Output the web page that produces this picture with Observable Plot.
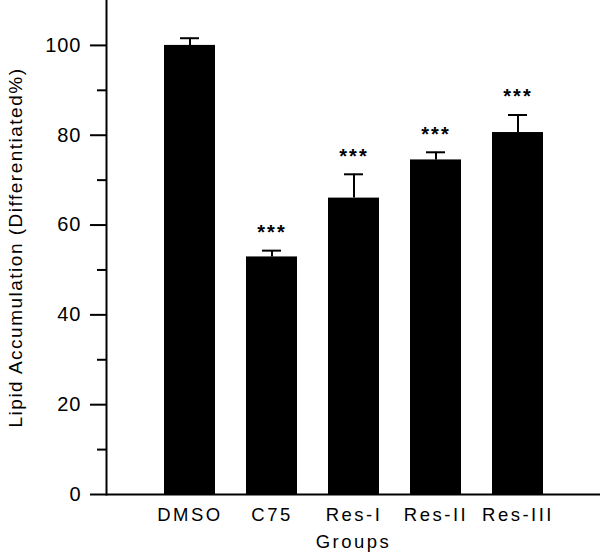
<!DOCTYPE html>
<html>
<head>
<meta charset="utf-8">
<script src="https://cdn.jsdelivr.net/npm/d3@7"></script>
<script src="https://cdn.jsdelivr.net/npm/@observablehq/plot@0.6"></script>
<style>
  html, body { margin: 0; padding: 0; background: #fff; }
  #chart svg { display: block; }
  #chart g[aria-label="y-axis tick label"] { font-size: 20px; letter-spacing: 1px; }
  #chart g[aria-label="x-axis tick label"] { font-size: 18.5px; letter-spacing: 2.5px; }
  #chart g[aria-label="y-axis label"] { font-size: 19px; letter-spacing: 1.5px; }
  #chart g[aria-label="x-axis label"] { font-size: 18.5px; letter-spacing: 2.5px; }
  #chart g[aria-label="text"] { font-size: 20px; letter-spacing: 2px; }
</style>
</head>
<body>
<div id="chart"></div>
<script>
const groups = ["DMSO", "C75", "Res-I", "Res-II", "Res-III"];
const means = [100, 52.9, 66.0, 74.5, 80.6];
const errors = [1.6, 1.4, 5.3, 1.7, 3.9];
const marks = ["", "***", "***", "***", "***"];
const majorTicks = [0, 20, 40, 60, 80, 100];
const minorTicks = [10, 30, 50, 70, 90];

const data = groups.map((g, i) => ({group: g, mean: means[i], upper: means[i] + errors[i], sig: marks[i]}));

const font = "'Liberation Sans', Arial, Helvetica, sans-serif";

const chart = Plot.plot({
  width: 600,
  height: 553,
  marginLeft: 106,
  marginRight: 0,
  marginTop: 0,
  marginBottom: 59,
  style: {fontFamily: font, background: "#fff", color: "#000"},
  x: {domain: groups, paddingInner: 0.38, paddingOuter: 0.69},
  y: {domain: [0, 110]},
  marks: [
    Plot.barY(data, {x: "group", y: "mean", fill: "#000"}),
    Plot.ruleX(data, {x: "group", y1: "mean", y2: "upper", stroke: "#000", strokeWidth: 2}),
    Plot.tickY(data, {x: "group", y: "upper", stroke: "#000", strokeWidth: 2, insetLeft: 16, insetRight: 16}),
    Plot.text(data, {x: "group", y: "upper", text: "sig", dy: -18, fontSize: 20, fontWeight: "bold", fill: "#000"}),
    Plot.axisY({ticks: majorTicks, tickSize: 16, tickPadding: 9, strokeWidth: 2, tickFormat: d3.format("d"),
      label: "Lipid Accumulation (Differentiated%)", labelAnchor: "center", labelArrow: "none", labelOffset: 98}),
    Plot.axisY({ticks: minorTicks, tickSize: 9, strokeWidth: 2, text: null, label: null}),
    Plot.axisX({tickSize: 0, tickPadding: 13, label: "Groups", labelAnchor: "center", labelArrow: "none", labelOffset: 53}),
    Plot.frame({anchor: "left", stroke: "#000", strokeWidth: 2}),
    Plot.ruleY([0], {stroke: "#000", strokeWidth: 2})
  ]
});

document.getElementById("chart").appendChild(chart);
</script>
</body>
</html>
